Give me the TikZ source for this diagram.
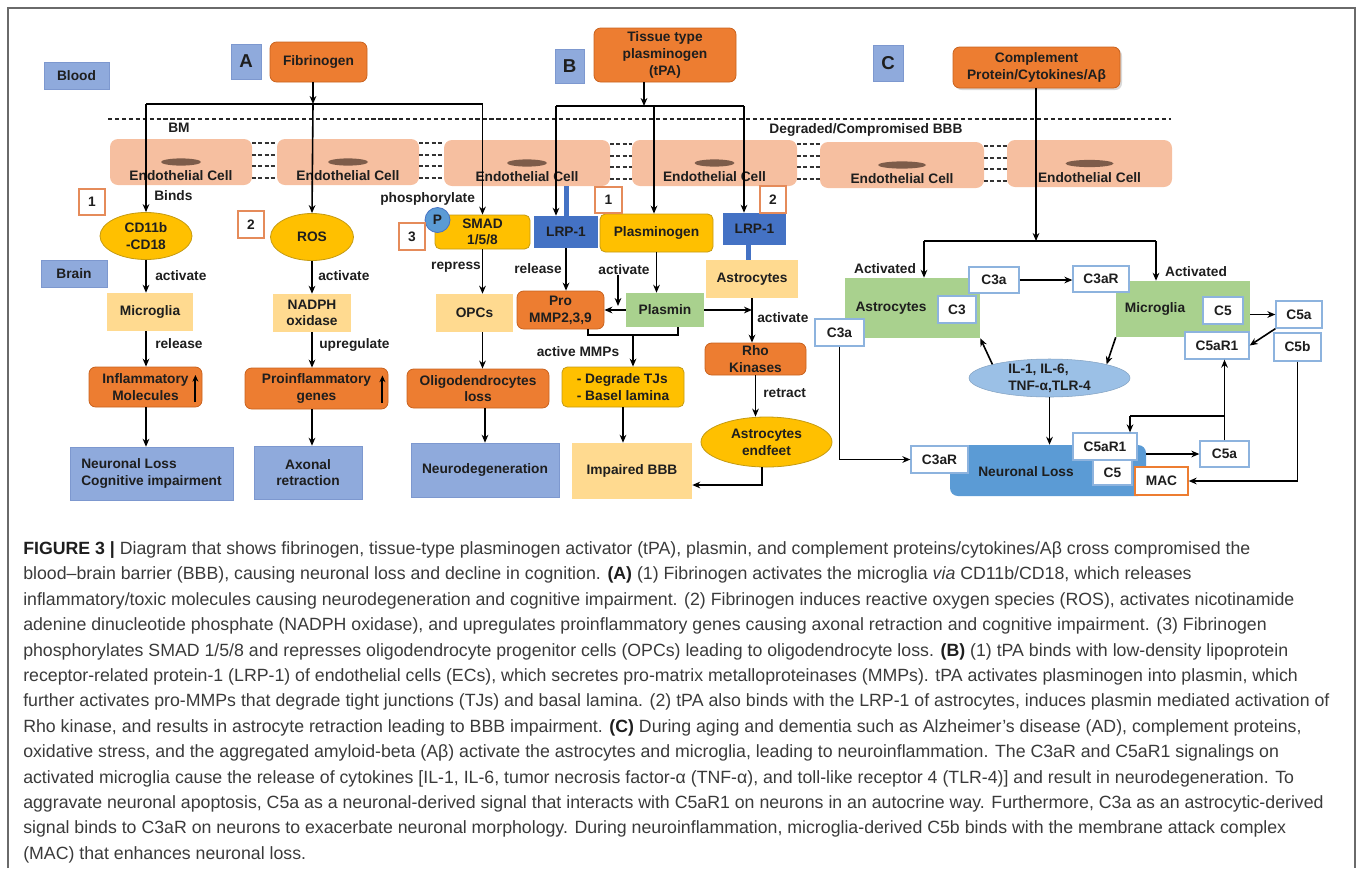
\documentclass[tikz,border=0pt]{standalone}
\usepackage{fontspec}
\setmainfont{Liberation Sans}
\usetikzlibrary{arrows.meta,shapes.geometric,shadows}

\definecolor{orangeF}{HTML}{ED7D31}
\definecolor{orangeD}{HTML}{C8621E}
\definecolor{yellowF}{HTML}{FFC000}
\definecolor{yellowD}{HTML}{C49A12}
\definecolor{paleY}{HTML}{FFDA90}
\definecolor{labBlue}{HTML}{8FAADC}
\definecolor{labBlueD}{HTML}{7D98CF}
\definecolor{lrpBlue}{HTML}{4472C4}
\definecolor{cellGreen}{HTML}{A9D18E}
\definecolor{cellPeach}{HTML}{F6BFA0}
\definecolor{nucBrown}{HTML}{7D5C4A}
\definecolor{cytoBlue}{HTML}{9BC0E6}
\definecolor{lossBlue}{HTML}{5B9BD5}
\definecolor{boxEdge}{HTML}{8DB3DE}
\definecolor{numEdge}{HTML}{E58B5A}
\definecolor{inkC}{HTML}{1E1E1E}
\definecolor{captC}{HTML}{3A3A3A}
\definecolor{frameC}{HTML}{6A6A6A}

\tikzset{sz/.style 2 args={minimum width=#1*0.75pt,minimum height=#2*0.75pt}}

\begin{document}
\begin{tikzpicture}[x=0.75pt,y=-0.75pt,
  every node/.style={font=\bfseries\fontsize{10.3}{12.5}\selectfont,text=inkC,inner sep=0pt,align=center},
  labelbox/.style={fill=labBlue,draw=labBlueD,line width=0.4pt},
  letterbox/.style={labelbox,font=\bfseries\fontsize{14}{16}\selectfont},
  orangebox/.style={fill=orangeF,draw=orangeD,line width=0.6pt,rounded corners=5pt},
  yellowbox/.style={fill=yellowF,draw=yellowD,line width=0.6pt,rounded corners=4pt},
  yellowell/.style={ellipse,fill=yellowF,draw=yellowD,line width=0.6pt},
  palebox/.style={fill=paleY},
  greenbox/.style={fill=cellGreen},
  lrpbox/.style={fill=lrpBlue},
  numbox/.style={fill=white,draw=numEdge,line width=0.9pt},
  whitebox/.style={fill=white,draw=boxEdge,line width=1pt},
  cellbox/.style={fill=cellPeach,rounded corners=6pt},
  conn/.style={line width=1.2pt},
  arr/.style={conn,-{Stealth[length=6pt,width=5pt]}},
  uparr/.style={line width=1.4pt,-{Stealth[length=5pt,width=4.5pt]}},
  stem/.style={lrpBlue,line width=3.75pt},
  gapdash/.style={line width=0.9pt,dash pattern=on 3pt off 1.6pt,black!80},
  bbbline/.style={line width=1.1pt,dash pattern=on 3.2pt off 2pt,black!85},
  capt/.style={font=\mdseries\fontsize{13.3}{16}\selectfont,text=captC,anchor=base west}]

  \useasboundingbox (0,0) rectangle (1358,868);
  \draw[frameC,line width=1.2pt] (8,868) -- (8,8) -- (1355,8) -- (1355,868);

  \node[labelbox,sz={65}{27}] (blood) at (76.5,75.5) {Blood};
  \node[labelbox,sz={66}{27}] (brain) at (74,273.5) {Brain};
  \node[letterbox,sz={30}{35}] (labA) at (246,61.5) {A};
  \node[letterbox,sz={29}{34}] (labB) at (569.5,66) {B};
  \node[letterbox,sz={30}{36}] (labC) at (888,63) {C};

  \coordinate (bbbL) at (108,119);
  \coordinate (bbbR) at (1171,119);
  \draw[bbbline] (bbbL) -- (bbbR);
  \node (bm) at (179,128) {BM};
  \node (degbbb) at (866,130) {Degraded/Compromised BBB};

  \foreach \c/\x/\y/\w/\h/\r in {ec1/181/162/142/46/20,ec2/348/162/142/46/20,ec3/527/163/166/46/20,
      ec4/714.5/163/165/46/20,ec5/902/165/164/46/24,ec6/1089.5/163.5/165/47/24} {
    \node[cellbox,sz={\w}{\h}] (\c) at (\x,\y) {};
    \fill[nucBrown] (\c.center) ellipse ({\r*0.75pt} and 2.7pt);
    \node (\c t) at ([yshift=-10.5pt]\c.center) {Endothelial Cell};
  }
  \foreach \a/\b in {ec1/ec2,ec2/ec3,ec3/ec4,ec4/ec5,ec5/ec6}
    \foreach \s in {14.25,5.25,-3,-12}
      \draw[gapdash] ([yshift=\s pt]\a.east) -- ([yshift=\s pt]\a.east -| \b.west);

  \node[orangebox,sz={97}{40}] (fib) at (318.5,62) {Fibrinogen};
  \node[yellowell,sz={92}{47}] (cd) at (146,236) {CD11b\\-CD18};
  \node[yellowell,sz={83}{47}] (ros) at (312,237) {ROS};
  \node[yellowbox,sz={95}{34}] (smad) at (482.5,232) {SMAD\\1/5/8};
  \node[circle,fill=lossBlue,draw=lrpBlue,line width=0.6pt,minimum size=18.75pt] (pP) at (437.5,220) {P};
  \node[numbox,sz={26}{26}] (n1A) at (92,202) {1};
  \node[numbox,sz={26}{27}] (n2A) at (251,224.5) {2};
  \node[numbox,sz={26}{27}] (n3A) at (412,236.5) {3};
  \node[anchor=west] (binds) at (154,196) {Binds};
  \node[anchor=west] (phos) at (380,199) {phosphorylate};

  \coordinate (jA) at (313,104);
  \draw[arr] (fib.south -| jA) -- (jA);
  \draw[conn] (jA -| cd) -- (jA -| smad);
  \path (jA -| cd) edge[arr] (cd.north)
        (jA) edge[arr] (ros.north)
        (jA -| smad) edge[arr] (smad.north);

  \node[palebox,sz={86}{38}] (micA) at (150,312) {Microglia};
  \node[orangebox,sz={113}{40}] (infl) at (145.5,387) {Inflammatory\\Molecules};
  \node[labelbox,sz={163}{53},align=left] (nlA) at (151.5,473.5) {Neuronal Loss\\Cognitive impairment};
  \node[palebox,sz={78}{38}] (nadph) at (312,313) {NADPH\\oxidase};
  \node[orangebox,sz={143}{41}] (proinf) at (316.5,388.5) {Proinflammatory\\genes};
  \node[labelbox,sz={108}{53}] (axon) at (308,472.5) {Axonal\\retraction};
  \node[palebox,sz={77}{38}] (opcs) at (474.5,313) {OPCs};
  \node[orangebox,sz={142}{39}] (oligo) at (478,388.5) {Oligodendrocytes\\loss};
  \node[labelbox,sz={148}{54}] (ndeg) at (485,470) {Neurodegeneration};

  \draw[uparr] ([shift={(-7,15)}]infl.east) -- ([shift={(-7,-12)}]infl.east);
  \draw[uparr] ([shift={(-6,14)}]proinf.east) -- ([shift={(-6,-13)}]proinf.east);

  \path (cd.south) edge[arr] (cd.south |- micA.north)
        (micA.south -| cd.south) edge[arr] (cd.south |- infl.north)
        (infl.south -| cd.south) edge[arr] (cd.south |- nlA.north)
        (ros.south) edge[arr] (ros.south |- nadph.north)
        (nadph.south) edge[arr] (nadph.south |- proinf.north)
        (proinf.south -| nadph.south) edge[arr] (nadph.south |- axon.north)
        (smad.south) edge[arr] (smad.south |- opcs.north)
        (smad.south |- opcs.south) edge[arr] (smad.south |- oligo.north)
        (ndeg.north |- oligo.south) edge[arr] (ndeg.north);
  \node[anchor=west] (actA1) at (155,276) {activate};
  \node[anchor=west] (actA2) at (318,276) {activate};
  \node[anchor=west] (relA) at (155,344) {release};
  \node[anchor=west] (upreg) at (319,345) {upregulate};
  \node (repr) at (456,267) {repress};

  \node[orangebox,sz={142}{54}] (tpa) at (665,55) {Tissue type\\plasminogen\\(tPA)};
  \node[lrpbox,sz={64}{32}] (lrpA) at (566,232) {LRP-1};
  \node[yellowbox,sz={113}{38}] (plg) at (656.5,233) {Plasminogen};
  \node[lrpbox,sz={63}{32}] (lrpB) at (754.5,229) {LRP-1};
  \node[palebox,sz={92}{38}] (astB) at (752,279) {Astrocytes};
  \node[numbox,sz={27}{26}] (n1B) at (608.5,200) {1};
  \node[numbox,sz={26}{27}] (n2B) at (773,199.5) {2};
  \coordinate (stB) at (748,0);
  \draw[stem] (lrpA.north) -- (lrpA.north |- ec3.south);
  \draw[stem] (stB |- lrpB.south) -- (stB |- astB.north);

  \coordinate (jB) at (644,106);
  \coordinate (bL) at (556,106);
  \coordinate (bM) at (654,106);
  \coordinate (bR) at (744,106);
  \draw[arr] (tpa.south -| jB) -- (jB);
  \draw[conn] (bL) -- (bR);
  \path (bL) edge[arr] (bL |- lrpA.north)
        (bM) edge[arr] (bM |- plg.north)
        (bR) edge[arr] (bR |- lrpB.north);

  \node[orangebox,sz={87}{38}] (promm) at (560.5,310) {Pro\\MMP2,3,9};
  \node[greenbox,sz={78}{34}] (pls) at (665,310) {Plasmin};
  \node[orangebox,sz={101}{32}] (rho) at (755.5,359) {Rho\\Kinases};
  \node[yellowbox,sz={122}{40},align=left] (degr) at (623,387) {- Degrade TJs\\- Basel lamina};
  \node[palebox,sz={120}{56}] (imp) at (632,471) {Impaired BBB};
  \node[yellowell,sz={131}{50}] (endf) at (766.5,442) {Astrocytes\\endfeet};
  \node (relB) at (538,269) {release};
  \node (actB) at (624,270) {activate};
  \node[anchor=west] (actB2) at (757,318) {activate};
  \node (amm) at (578,352) {active MMPs};
  \node[anchor=west] (retr) at (763,393) {retract};

  \coordinate (actE) at (618,306);
  \coordinate (brL) at (588,335);
  \coordinate (brM) at (633,335);
  \coordinate (brR) at (678,335);
  \coordinate (eb) at (762,485);
  \path (lrpA.south) edge[arr] (lrpA.south |- promm.north)
        (plg.south) edge[arr] (plg.south |- pls.north)
        (actB.south -| actE) edge[arr] (actE)
        (pls.west) edge[arr] (promm.east)
        (pls.east) edge[arr] (pls.east -| astB.south)
        (astB.south) edge[arr] (astB.south |- rho.north)
        (rho.south) edge[arr] (rho.south |- endf.north)
        (brM) edge[arr] (brM |- degr.north)
        (degr.south) edge[arr] (degr.south |- imp.north);
  \draw[conn] (brL |- promm.south) -- (brL) -- (brR) -- (brR |- pls.south);
  \draw[arr] (endf.south -| eb) -- (eb) -- (eb -| imp.east);

  \node[orangebox,sz={167}{41},drop shadow={opacity=0.3,shadow xshift=1.5pt,shadow yshift=-1.5pt}] (comp) at (1036.5,67.5) {Complement\\Protein/Cytokines/Aβ};
  \node[greenbox,sz={135}{60}] (astC) at (912.5,308) {};
  \node[greenbox,sz={134}{56}] (micC) at (1183,309) {};
  \node (astCt) at (891,308) {Astrocytes};
  \node (micCt) at (1155,309) {Microglia};
  \node (actC1) at (885,269) {Activated};
  \node (actC2) at (1196,272) {Activated};
  \node[whitebox,sz={38}{27}] (c3) at (957,309.5) {C3};
  \node[whitebox,sz={50}{26}] (c3aT) at (994,280) {C3a};
  \node[whitebox,sz={56}{26}] (c3rT) at (1101,279) {C3aR};
  \node[whitebox,sz={49}{27}] (c3aL) at (839.5,332.5) {C3a};
  \node[whitebox,sz={40}{27}] (c5T) at (1223,310.5) {C5};
  \node[whitebox,sz={46}{27}] (c5aT) at (1299,314.5) {C5a};
  \node[whitebox,sz={47}{28}] (c5b) at (1297.5,347) {C5b};
  \node[whitebox,sz={64}{27}] (c5r1T) at (1217,345.5) {C5aR1};
  \node[ellipse,fill=cytoBlue,draw=cytoBlue!85!black,line width=0.4pt,sz={161}{38},inner ysep=-2.5pt,align=left] (ill) at (1049.5,378) {IL-1, IL-6,\\TNF-α,TLR-4};
  \node[fill=lossBlue,rounded corners=6pt,sz={196}{51}] (nlC) at (1048,470.5) {};
  \node (nlCt) at (1026,472) {Neuronal Loss};
  \node[whitebox,sz={57}{27}] (c3rB) at (939.5,459.5) {C3aR};
  \node[whitebox,sz={64}{27}] (c5r1B) at (1105,446.5) {C5aR1};
  \node[whitebox,sz={39}{25}] (c5B) at (1112.5,472.5) {C5};
  \node[fill=white,draw=orangeF,line width=1pt,sz={53}{28}] (mac) at (1161.5,481) {MAC};
  \node[whitebox,sz={49}{26}] (c5aB) at (1224.5,454) {C5a};

  \coordinate (jC) at (1036,241);
  \coordinate (cL) at (924,241);
  \coordinate (cR) at (1156,241);
  \coordinate (kR) at (1225,416);
  \coordinate (kL) at (1130,416);
  \draw[arr] (comp.south -| jC) -- (jC);
  \draw[conn] (cL) -- (cR);
  \draw[conn] (kR) -- (kL);
  \path (cL) edge[arr] (cL |- astC.north)
        (cR) edge[arr] (cR |- micC.north)
        (c3aT.east) edge[arr] (c3aT.east -| c3rT.west)
        (c5aT.west -| micC.east) edge[arr] (c5aT.west)
        (c5aT.south west) edge[arr] (c5r1T.east)
        (ill.north west) edge[arr] (astC.south east)
        (micC.south west) edge[arr] (ill.north east)
        (ill.south) edge[arr] (ill.south |- nlC.north)
        (c5aB.west -| nlC.east) edge[arr] (c5aB.west)
        (c5aB.north) edge[arr] (c5aB.north |- c5r1T.south)
        (kL) edge[arr] (kL |- c5r1B.north);
  \draw[arr] (c3aL.south) |- (c3rB.west);
  \draw[arr] (c5b.south) |- (mac.east);

  \node[capt] (cap1) at (23,554.5) {{\bfseries\color{inkC}FIGURE 3 |} Diagram that shows fibrinogen, tissue-type plasminogen activator (tPA), plasmin, and complement proteins/cytokines/Aβ cross compromised the};
  \node[capt] (cap2) at (23,579.9) {blood--brain barrier (BBB), causing neuronal loss and decline in cognition. {\bfseries\color{inkC}(A)} (1) Fibrinogen activates the microglia \textit{via} CD11b/CD18, which releases};
  \node[capt] (cap3) at (23,605.3) {inflammatory/toxic molecules causing neurodegeneration and cognitive impairment. (2) Fibrinogen induces reactive oxygen species (ROS), activates nicotinamide};
  \node[capt] (cap4) at (23,630.7) {adenine dinucleotide phosphate (NADPH oxidase), and upregulates proinflammatory genes causing axonal retraction and cognitive impairment. (3) Fibrinogen};
  \node[capt] (cap5) at (23,656.1) {phosphorylates SMAD 1/5/8 and represses oligodendrocyte progenitor cells (OPCs) leading to oligodendrocyte loss. {\bfseries\color{inkC}(B)} (1) tPA binds with low-density lipoprotein};
  \node[capt] (cap6) at (23,681.5) {receptor-related protein-1 (LRP-1) of endothelial cells (ECs), which secretes pro-matrix metalloproteinases (MMPs). tPA activates plasminogen into plasmin, which};
  \node[capt] (cap7) at (23,706.9) {further activates pro-MMPs that degrade tight junctions (TJs) and basal lamina. (2) tPA also binds with the LRP-1 of astrocytes, induces plasmin mediated activation of};
  \node[capt] (cap8) at (23,732.3) {Rho kinase, and results in astrocyte retraction leading to BBB impairment. {\bfseries\color{inkC}(C)} During aging and dementia such as Alzheimer's disease (AD), complement proteins,};
  \node[capt] (cap9) at (23,757.7) {oxidative stress, and the aggregated amyloid-beta (Aβ) activate the astrocytes and microglia, leading to neuroinflammation. The C3aR and C5aR1 signalings on};
  \node[capt] (cap10) at (23,783.1) {activated microglia cause the release of cytokines [IL-1, IL-6, tumor necrosis factor-α (TNF-α), and toll-like receptor 4 (TLR-4)] and result in neurodegeneration. To};
  \node[capt] (cap11) at (23,808.5) {aggravate neuronal apoptosis, C5a as a neuronal-derived signal that interacts with C5aR1 on neurons in an autocrine way. Furthermore, C3a as an astrocytic-derived};
  \node[capt] (cap12) at (23,833.9) {signal binds to C3aR on neurons to exacerbate neuronal morphology. During neuroinflammation, microglia-derived C5b binds with the membrane attack complex};
  \node[capt] (cap13) at (23,859.3) {(MAC) that enhances neuronal loss.};
\end{tikzpicture}
\end{document}
